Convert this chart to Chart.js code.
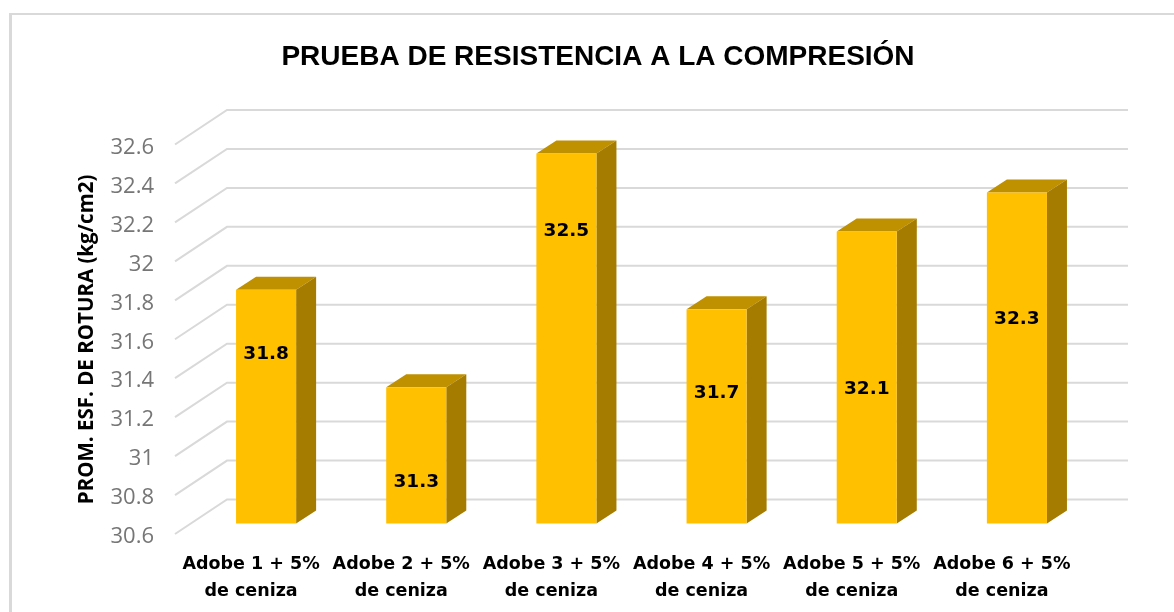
<!DOCTYPE html>
<html>
<head>
<meta charset="utf-8">
<title>Prueba de resistencia a la compresión</title>
<script src="https://cdn.jsdelivr.net/npm/chart.js@4/dist/chart.umd.js"></script>
<style>
  html, body { margin: 0; padding: 0; background: #fff; overflow: hidden; }
  #frame { position: absolute; left: 9px; top: 13px; width: 1165px; height: 599px; border-left: 3px solid #d9d9d9; border-top: 2px solid #d9d9d9; }
  canvas { position: absolute; left: 0; top: 0; }
</style>
</head>
<body>
<div id="frame"></div>
<canvas id="myChart" width="1174" height="612"></canvas>
<script>
const categories = [
  ["Adobe 1 + 5%", "de ceniza"],
  ["Adobe 2 + 5%", "de ceniza"],
  ["Adobe 3 + 5%", "de ceniza"],
  ["Adobe 4 + 5%", "de ceniza"],
  ["Adobe 5 + 5%", "de ceniza"],
  ["Adobe 6 + 5%", "de ceniza"],
];
const resistance = [31.8, 31.3, 32.5, 31.7, 32.1, 32.3];
const yTickValues = [30.6, 30.8, 31, 31.2, 31.4, 31.6, 31.8, 32, 32.2, 32.4, 32.6];
const yTickLabels = ["30.6", "30.8", "31", "31.2", "31.4", "31.6", "31.8", "32", "32.2", "32.4", "32.6"];
// the labels sit at odd heights inside the bars, so keep them in axis units
const labelHeights = [31.47, 30.81, 32.1, 31.27, 31.29, 31.65];

// fake 3D: walls, bar sides and value labels
const walls = {
  id: "walls",
  afterLayout(chart) {
    chart.titleBlock.left = 22;
    chart.titleBlock.right = 1174;
  },
  beforeDatasetsDraw(chart) {
    const { ctx, scales } = chart;
    const { x, y } = scales;
    ctx.save();
    ctx.strokeStyle = "#d9d9d9";
    ctx.lineWidth = 2;
    yTickValues.forEach((v) => {
      const py = y.getPixelForValue(v);
      ctx.beginPath();
      ctx.moveTo(x.left - 16, py + 10.5);
      ctx.lineTo(x.left + 36, py - 24);
      ctx.lineTo(x.right + 36, py - 24);
      ctx.stroke();
    });
    const base = y.getPixelForValue(y.min);
    chart.getDatasetMeta(0).data.forEach((bar) => {
      const left = bar.x - bar.width / 2;
      const right = bar.x + bar.width / 2;
      ctx.fillStyle = "#bf9000";
      ctx.beginPath();
      ctx.moveTo(left, bar.y);
      ctx.lineTo(left + 20, bar.y - 13);
      ctx.lineTo(right + 20, bar.y - 13);
      ctx.lineTo(right, bar.y);
      ctx.closePath();
      ctx.fill();
      ctx.fillStyle = "#a57c00";
      ctx.beginPath();
      ctx.moveTo(right, bar.y);
      ctx.lineTo(right + 20, bar.y - 13);
      ctx.lineTo(right + 20, base - 13);
      ctx.lineTo(right, base);
      ctx.closePath();
      ctx.fill();
    });
    ctx.restore();
  },
  afterDatasetsDraw(chart) {
    const { ctx, scales } = chart;
    ctx.save();
    ctx.fillStyle = "#000";
    ctx.font = "bold 18.5px 'DejaVu Sans'";
    ctx.textAlign = "center";
    ctx.textBaseline = "middle";
    chart.getDatasetMeta(0).data.forEach((bar, i) => {
      ctx.fillText(resistance[i], bar.x, scales.y.getPixelForValue(labelHeights[i]));
    });
    ctx.restore();
  },
};

new Chart(document.getElementById("myChart"), {
  type: "bar",
  data: {
    labels: categories,
    datasets: [
      {
        label: "Resistencia",
        data: resistance,
        backgroundColor: "#ffc000",
        barPercentage: 0.4,
        categoryPercentage: 1,
      },
    ],
  },
  plugins: [walls],
  options: {
    responsive: false,
    animation: false,
    layout: { padding: { left: 0, right: 82, top: 0, bottom: 0 } },
    plugins: {
      legend: { display: false },
      tooltip: { enabled: false },
      title: {
        display: true,
        text: "PRUEBA DE RESISTENCIA A LA COMPRESIÓN",
        color: "#000",
        font: { family: "'Liberation Sans'", size: 28, weight: "bold", lineHeight: 1.2 },
        padding: { top: 40, bottom: 60.4 },
      },
    },
    scales: {
      x: {
        grid: { display: false },
        border: { display: false },
        afterFit(scale) {
          scale.height = 88.5;
        },
        ticks: {
          color: "#000",
          font: { family: "'DejaVu Sans'", size: 17.5, weight: "bold", lineHeight: 1.55 },
          padding: 19,
          labelOffset: -15,
          maxRotation: 0,
          autoSkip: false,
        },
      },
      y: {
        min: yTickValues[0],
        max: yTickValues[yTickValues.length - 1],
        grid: { display: false, drawTicks: false },
        border: { display: false },
        afterFit(scale) {
          scale.width = 191;
        },
        afterBuildTicks(scale) {
          scale.ticks = yTickValues.map((value) => ({ value }));
        },
        ticks: {
          color: "#767676",
          font: { family: "'Open Sans'", size: 22 },
          padding: 37,
          labelOffset: 13.5,
          callback: (value, i) => yTickLabels[i],
        },
        title: {
          display: true,
          text: "PROM. ESF. DE ROTURA (kg/cm2)    ",
          color: "#000",
          font: { family: "'Open Sans'", size: 20.5, weight: "bold", lineHeight: 1.2 },
          padding: { top: 75, bottom: 0 },
        },
      },
    },
  },
});
</script>
</body>
</html>
